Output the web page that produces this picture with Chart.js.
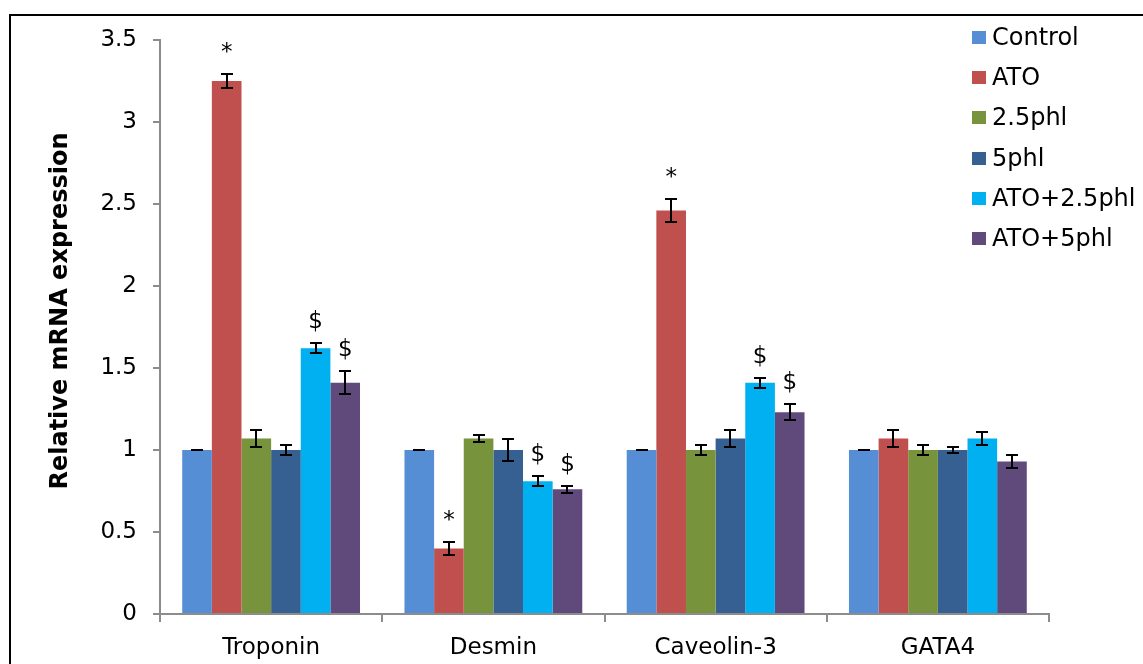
<!DOCTYPE html>
<html>
<head>
<meta charset="utf-8">
<script src="https://cdn.jsdelivr.net/npm/chart.js@4.4.0/dist/chart.umd.min.js"></script>
<style>
  html, body { margin: 0; padding: 0; background: #fff; }
  #wrap { position: relative; width: 1143px; height: 664px; overflow: hidden; }
  #frame { position: absolute; left: 9px; top: 14px; width: 1200px; height: 700px;
           border-left: 2px solid #000; border-top: 2px solid #000; box-sizing: border-box; }
  #chart { position: absolute; left: 0; top: 0; }
  #legend { position: absolute; left: 972px; top: 0; font-family: "DejaVu Sans", sans-serif;
            font-size: 24px; color: #000; }
  .row { position: absolute; left: 0; height: 40px; white-space: nowrap; }
  .sw { position: absolute; left: 0; width: 14px; height: 13px; }
  .lb { position: absolute; left: 20px; line-height: 28px; }
</style>
</head>
<body>
<div id="wrap">
  <div id="frame"></div>
  <canvas id="chart" width="1143" height="664"></canvas>
  <div id="legend"></div>
</div>
<script>
// Genes on the category axis
const genes = ["Troponin", "Desmin", "Caveolin-3", "GATA4"];

// Treatment groups and their bar colours
const groups = ["Control", "ATO", "2.5phl", "5phl", "ATO+2.5phl", "ATO+5phl"];
const groupColors = ["#558ED5", "#C0504D", "#77933C", "#376092", "#00B0F0", "#604A7B"];

// Relative mRNA expression (mean) per group, one value per gene
const control   = [1.00, 1.00, 1.00, 1.00];
const ato       = [3.25, 0.40, 2.46, 1.07];
const phl25     = [1.07, 1.07, 1.00, 1.00];
const phl5      = [1.00, 1.00, 1.07, 1.00];
const atoPhl25  = [1.62, 0.81, 1.41, 1.07];
const atoPhl5   = [1.41, 0.76, 1.23, 0.93];

// Standard errors
const controlErr  = [0.00, 0.00, 0.00, 0.00];
const atoErr      = [0.04, 0.04, 0.07, 0.05];
const phl25Err    = [0.05, 0.02, 0.03, 0.03];
const phl5Err     = [0.03, 0.07, 0.05, 0.02];
const atoPhl25Err = [0.03, 0.03, 0.03, 0.04];
const atoPhl5Err  = [0.07, 0.02, 0.05, 0.04];

// Significance marks above the bars (* vs control, $ vs ATO)
const controlSig  = ["", "", "", ""];
const atoSig      = ["*", "*", "*", ""];
const phl25Sig    = ["", "", "", ""];
const phl5Sig     = ["", "", "", ""];
const atoPhl25Sig = ["$", "$", "$", ""];
const atoPhl5Sig  = ["$", "$", "$", ""];

// Y axis ticks
const yMin = 0, yMax = 3.5, yStep = 0.5;

const seriesValues = [control, ato, phl25, phl5, atoPhl25, atoPhl5];
const seriesErrors = [controlErr, atoErr, phl25Err, phl5Err, atoPhl25Err, atoPhl5Err];
const seriesSig    = [controlSig, atoSig, phl25Sig, phl5Sig, atoPhl25Sig, atoPhl5Sig];

const axisGray = "#8c8c8c";
const tickFont = { family: "DejaVu Sans", size: 23 };

// Error bars with caps, drawn from the value scale
const errorBars = {
  id: "errorBars",
  afterDatasetsDraw(chart) {
    const ctx = chart.ctx;
    const ys = chart.scales.y;
    ctx.save();
    ctx.strokeStyle = "#000";
    ctx.lineWidth = 2;
    chart.data.datasets.forEach((ds, i) => {
      const meta = chart.getDatasetMeta(i);
      meta.data.forEach((bar, j) => {
        const v = ds.data[j], e = seriesErrors[i][j];
        const top = Math.round(ys.getPixelForValue(v + e));
        const bot = Math.round(ys.getPixelForValue(v - e));
        const x = Math.round(bar.x);
        ctx.beginPath();
        ctx.moveTo(x, top); ctx.lineTo(x, bot);
        ctx.moveTo(x - 6, top); ctx.lineTo(x + 6, top);
        ctx.moveTo(x - 6, bot); ctx.lineTo(x + 6, bot);
        ctx.stroke();
      });
    });
    ctx.restore();
  }
};

// Significance symbols above the error bars
const sigMarks = {
  id: "sigMarks",
  afterDatasetsDraw(chart) {
    const ctx = chart.ctx;
    const ys = chart.scales.y;
    ctx.save();
    ctx.fillStyle = "#000";
    ctx.font = "23px 'DejaVu Sans'";
    ctx.textAlign = "center";
    ctx.textBaseline = "alphabetic";
    chart.data.datasets.forEach((ds, i) => {
      const meta = chart.getDatasetMeta(i);
      meta.data.forEach((bar, j) => {
        const s = seriesSig[i][j];
        if (!s) return;
        const top = ys.getPixelForValue(ds.data[j] + seriesErrors[i][j]);
        ctx.fillText(s, bar.x, top - 15);
      });
    });
    ctx.restore();
  }
};

// Rotated y axis title
const yTitle = {
  id: "yTitle",
  afterDraw(chart) {
    const ctx = chart.ctx;
    const a = chart.chartArea;
    ctx.save();
    ctx.translate(a.left - 99, (a.top + a.bottom) / 2 - 16);
    ctx.rotate(-Math.PI / 2);
    ctx.font = "bold 24px 'DejaVu Sans'";
    ctx.fillStyle = "#000";
    ctx.textAlign = "center";
    ctx.textBaseline = "middle";
    ctx.fillText("Relative mRNA expression", 0, 0);
    ctx.restore();
  }
};

const datasets = groups.map((g, i) => ({
  label: g,
  data: seriesValues[i],
  backgroundColor: groupColors[i],
  borderWidth: 0,
  categoryPercentage: 0.8,
  barPercentage: 1.0
}));

new Chart(document.getElementById("chart"), {
  type: "bar",
  data: { labels: genes, datasets },
  options: {
    responsive: false,
    animation: false,
    devicePixelRatio: 1,
    layout: { padding: { left: 0, right: 94, top: 40, bottom: 0 } },
    plugins: { legend: { display: false }, tooltip: { enabled: false } },
    scales: {
      x: {
        offset: true,
        grid: { offset: true, drawOnChartArea: false, drawTicks: true, tickLength: 8,
                color: axisGray, lineWidth: 2 },
        border: { color: axisGray, width: 2 },
        ticks: { font: tickFont, color: "#000", padding: 12 },
        afterFit(s) { s.height = 50; }
      },
      y: {
        min: yMin, max: yMax,
        ticks: { stepSize: yStep, font: tickFont, color: "#000", padding: 16,
                 callback: v => String(Math.round(v * 10) / 10) },
        grid: { drawOnChartArea: false, drawTicks: true, tickLength: 7,
                color: axisGray, lineWidth: 2 },
        border: { color: axisGray, width: 2 },
        afterFit(s) { s.width = 160; }
      }
    }
  },
  plugins: [errorBars, sigMarks, yTitle]
});

// Legend entries
const legend = document.getElementById("legend");
groups.forEach((g, i) => {
  const row = document.createElement("div");
  row.className = "row";
  row.style.top = (23 + i * 40.2) + "px";
  const sw = document.createElement("div");
  sw.className = "sw";
  sw.style.top = "8px";
  sw.style.background = groupColors[i];
  const lb = document.createElement("div");
  lb.className = "lb";
  lb.textContent = g;
  row.appendChild(sw);
  row.appendChild(lb);
  legend.appendChild(row);
});
</script>
</body>
</html>
